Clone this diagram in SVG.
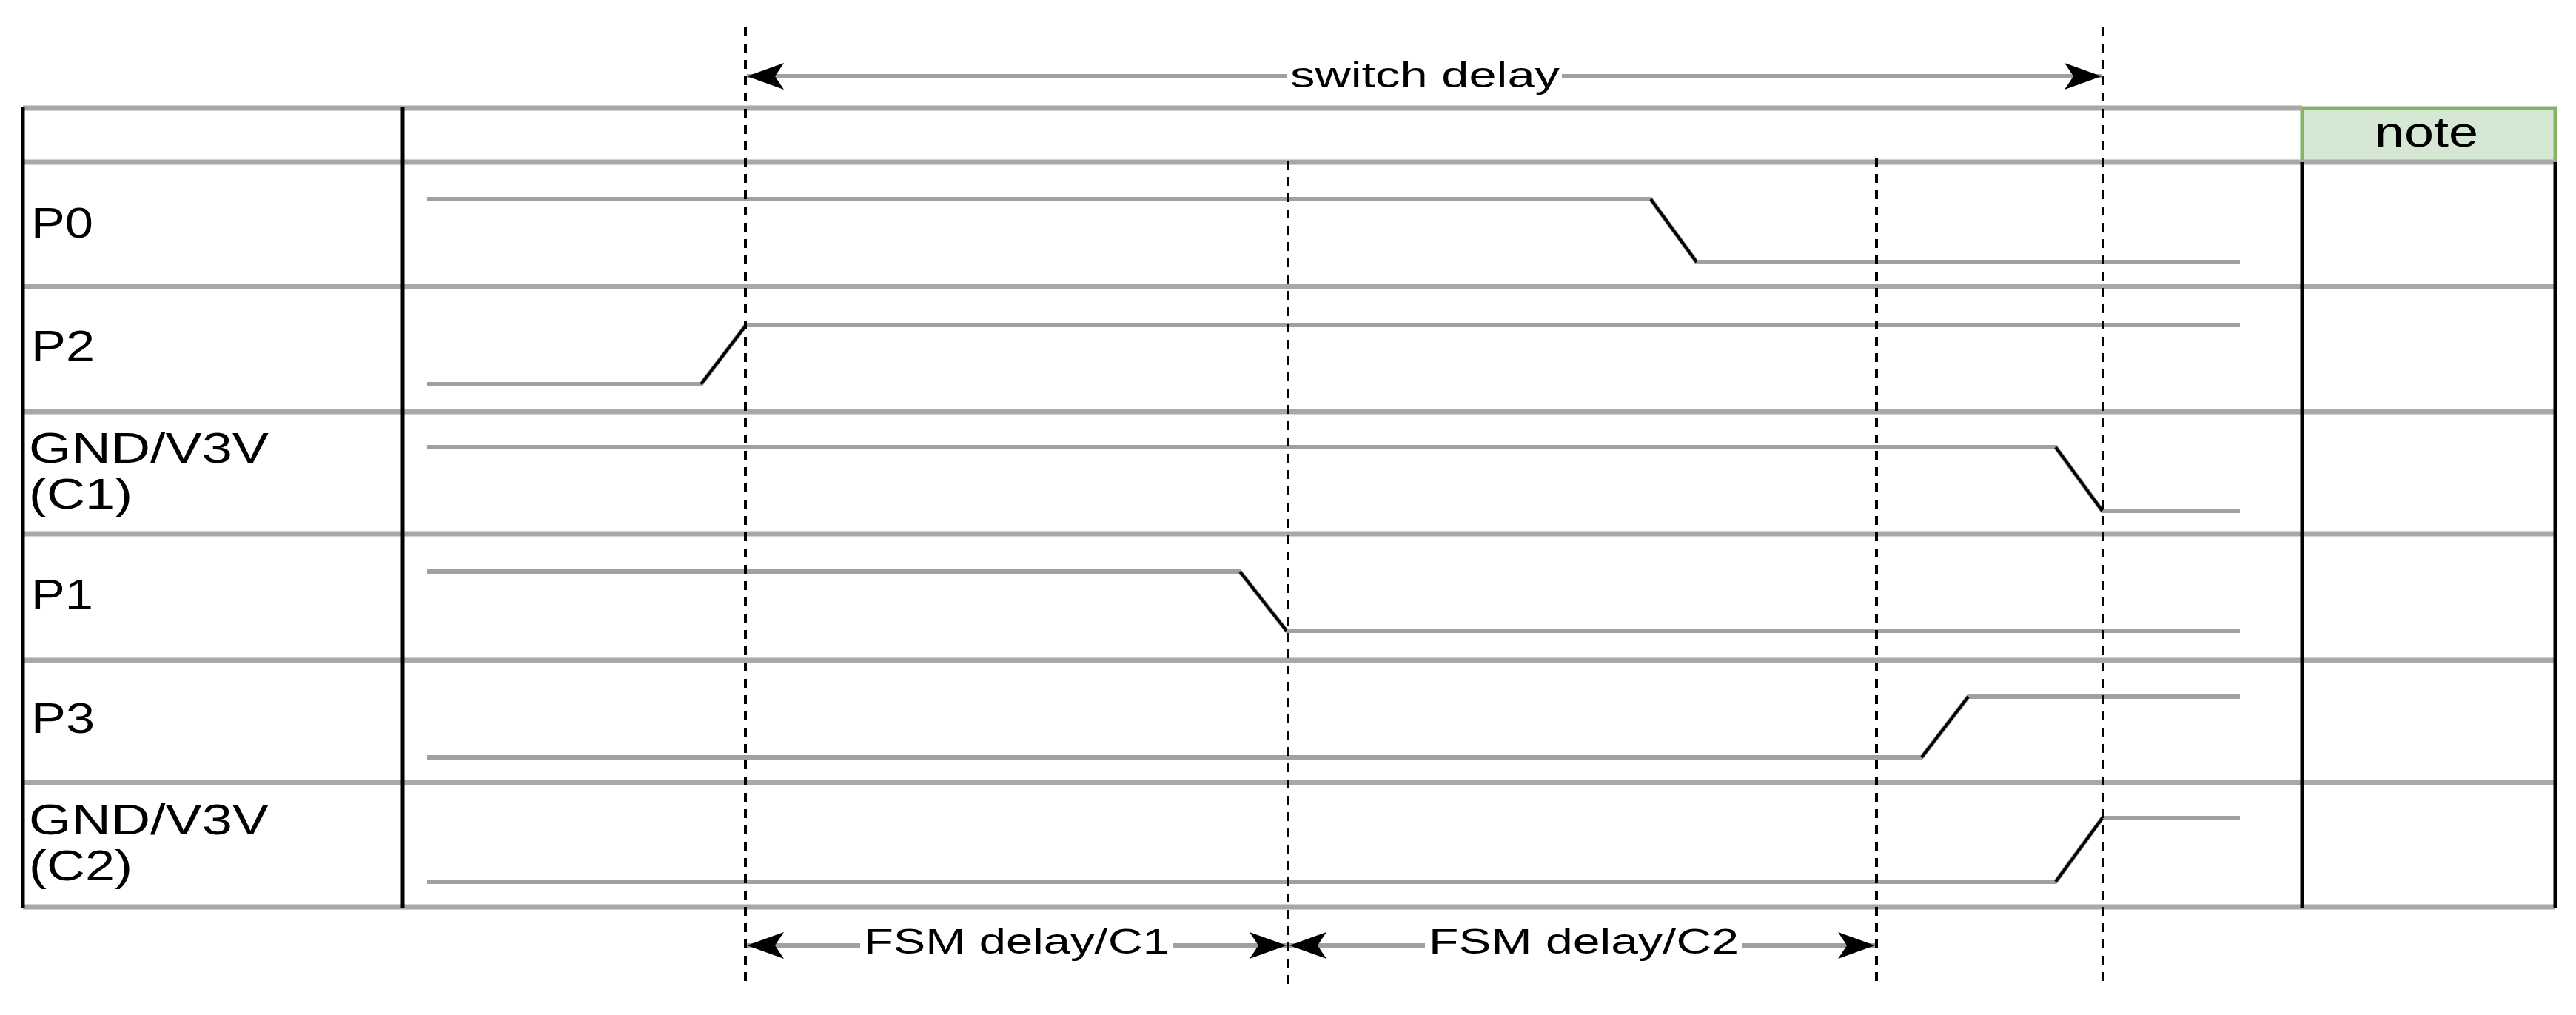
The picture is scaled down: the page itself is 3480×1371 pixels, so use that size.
<svg xmlns="http://www.w3.org/2000/svg" width="3480" height="1371" viewBox="0 0 3480 1371">
<style>
.hl{stroke:#a8a8a8;stroke-width:7;fill:none}
.vl{stroke:#000;stroke-width:5;fill:none}
.dash{stroke:#000;stroke-width:4;stroke-dasharray:12 10;fill:none}
.wave{stroke:#a0a0a0;stroke-width:6;fill:none;stroke-linejoin:round}
.edge{stroke:#000;stroke-width:4;fill:none}
.lbl{font-family:"Liberation Sans",Arial,Helvetica,sans-serif;font-size:57px;fill:#000}
.dim{stroke:#a0a0a0;stroke-width:6;fill:none}
.dimtxt{font-family:"Liberation Sans",Arial,Helvetica,sans-serif;font-size:48px;fill:#000}
</style>
<defs>
<marker id="arr" markerUnits="userSpaceOnUse" markerWidth="52" markerHeight="40" refX="50" refY="20" orient="auto-start-reverse" viewBox="0 0 52 40">
<path d="M0,2 L50,20 L0,38 L12,20 Z" fill="#000"/>
</marker>
</defs>
<rect x="0" y="0" width="3480" height="1371" fill="#fff"/>

<g id="table">
<rect x="3110" y="146" width="342" height="73" fill="#d5e8d4" stroke="#82b366" stroke-width="5"/>
<line class="hl" x1="31" y1="146" x2="3110" y2="146"/>
<line class="hl" x1="31" y1="219" x2="3452" y2="219"/>
<line class="hl" x1="31" y1="387" x2="3452" y2="387"/>
<line class="hl" x1="31" y1="556" x2="3452" y2="556"/>
<line class="hl" x1="31" y1="721" x2="3452" y2="721"/>
<line class="hl" x1="31" y1="892" x2="3452" y2="892"/>
<line class="hl" x1="31" y1="1057" x2="3452" y2="1057"/>
<line class="hl" x1="31" y1="1225" x2="3452" y2="1225"/>
<line class="vl" x1="31" y1="144" x2="31" y2="1227"/>
<line class="vl" x1="544" y1="144" x2="544" y2="1227"/>
<line class="vl" x1="3110" y1="219" x2="3110" y2="1227"/>
<line class="vl" x1="3452" y1="219" x2="3452" y2="1227"/>
</g>

<g id="note-header">
<text class="lbl" x="3208" y="198" font-size="58" textLength="140" lengthAdjust="spacingAndGlyphs">note</text>
</g>

<g id="labels">
<text id="lbl-p0" class="lbl" x="42" y="321" textLength="84" lengthAdjust="spacingAndGlyphs">P0</text>
<text id="lbl-p2" class="lbl" x="42" y="487" textLength="86" lengthAdjust="spacingAndGlyphs">P2</text>
<text id="lbl-c1a" class="lbl" x="39" y="625" textLength="324" lengthAdjust="spacingAndGlyphs">GND/V3V</text>
<text id="lbl-c1b" class="lbl" x="39" y="687" textLength="140" lengthAdjust="spacingAndGlyphs">(C1)</text>
<text id="lbl-p1" class="lbl" x="42" y="823" textLength="84" lengthAdjust="spacingAndGlyphs">P1</text>
<text id="lbl-p3" class="lbl" x="42" y="990" textLength="86" lengthAdjust="spacingAndGlyphs">P3</text>
<text id="lbl-c2a" class="lbl" x="39" y="1127" textLength="324" lengthAdjust="spacingAndGlyphs">GND/V3V</text>
<text id="lbl-c2b" class="lbl" x="39" y="1189" textLength="140" lengthAdjust="spacingAndGlyphs">(C2)</text>
</g>

<g id="wave-p0">
<polyline class="wave" points="577,269 2230,269 2292,354 3026,354"/>
<line class="edge" x1="2230" y1="269" x2="2292" y2="354"/>
</g>
<g id="wave-p2">
<polyline class="wave" points="577,519 947,519 1008,439 3026,439"/>
<line class="edge" x1="947" y1="519" x2="1008" y2="439"/>
</g>
<g id="wave-c1">
<polyline class="wave" points="577,604 2777,604 2840,690 3026,690"/>
<line class="edge" x1="2777" y1="604" x2="2840" y2="690"/>
</g>
<g id="wave-p1">
<polyline class="wave" points="577,772 1675,772 1738,852 3026,852"/>
<line class="edge" x1="1675" y1="772" x2="1738" y2="852"/>
</g>
<g id="wave-p3">
<polyline class="wave" points="577,1023 2596,1023 2659,941 3026,941"/>
<line class="edge" x1="2596" y1="1023" x2="2659" y2="941"/>
</g>
<g id="wave-c2">
<polyline class="wave" points="577,1191 2777,1191 2840,1105 3026,1105"/>
<line class="edge" x1="2777" y1="1191" x2="2840" y2="1105"/>
</g>

<g id="markers">
<line class="dash" x1="1007" y1="37" x2="1007" y2="1335"/>
<line class="dash" x1="1740" y1="217" x2="1740" y2="1330"/>
<line class="dash" x1="2535" y1="213" x2="2535" y2="1325"/>
<line class="dash" x1="2841" y1="37" x2="2841" y2="1331"/>
</g>

<g id="connectors">
<g id="dim-switch">
<line class="dim" x1="1009" y1="103" x2="1738" y2="103" marker-start="url(#arr)"/>
<line class="dim" x1="2110" y1="103" x2="2839" y2="103" marker-end="url(#arr)"/>
<text class="dimtxt" x="1743" y="118" font-size="49" textLength="364" lengthAdjust="spacingAndGlyphs">switch delay</text>
</g>
<g id="dim-fsm-c1">
<line class="dim" x1="1009" y1="1277" x2="1162" y2="1277" marker-start="url(#arr)"/>
<line class="dim" x1="1584" y1="1277" x2="1738" y2="1277" marker-end="url(#arr)"/>
<text class="dimtxt" x="1167" y="1288" font-size="46" textLength="413" lengthAdjust="spacingAndGlyphs">FSM delay/C1</text>
</g>
<g id="dim-fsm-c2">
<line class="dim" x1="1742" y1="1277" x2="1925" y2="1277" marker-start="url(#arr)"/>
<line class="dim" x1="2353" y1="1277" x2="2533" y2="1277" marker-end="url(#arr)"/>
<text class="dimtxt" x="1930" y="1288" font-size="46" textLength="419" lengthAdjust="spacingAndGlyphs">FSM delay/C2</text>
</g>
</g>
</svg>
